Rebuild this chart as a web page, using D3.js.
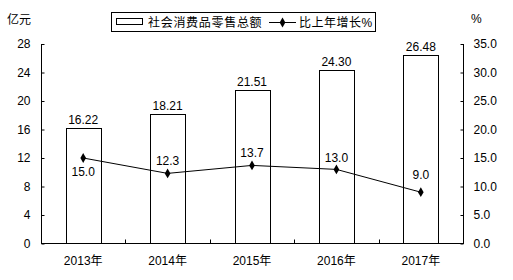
<!DOCTYPE html>
<html>
<head>
<meta charset="utf-8">
<script src="https://cdn.jsdelivr.net/npm/d3@7"></script>
<style>
  body { margin: 0; background: #fff; }
  text { font-family: "Liberation Sans", Arial, "Noto Sans CJK SC", sans-serif; font-size: 12px; fill: #000; }
  .cjk { font-family: "Liberation Sans", "Noto Sans CJK SC", sans-serif; }
</style>
</head>
<body>
<svg id="chart" width="513" height="280"></svg>
<script>
// data
var years = ["2013年", "2014年", "2015年", "2016年", "2017年"];
var sales = [16.22, 18.21, 21.51, 24.30, 26.48];      // 亿元
var growth = [15.0, 12.3, 13.7, 13.0, 9.0];           // %
var leftTicks = [0, 4, 8, 12, 16, 20, 24, 28];
var rightTicks = [0, 5, 10, 15, 20, 25, 30, 35];

(function () {
    var svg = d3.select("#chart");
    var pLeft = 41, pRight = 463, pTop = 44, pBottom = 243.5;

    var x = d3.scaleBand().domain(years).range([pLeft, pRight]);
    var yL = d3.scaleLinear().domain([0, 28]).range([pBottom, pTop]);
    var yR = d3.scaleLinear().domain([0, 35]).range([pBottom, pTop]);
    var barW = 35;

    // axes, ticks pointing into the plot
    var axL = svg.append("g").attr("transform", "translate(" + (pLeft + 0.5) + ",0)")
        .call(d3.axisRight(yL).tickValues(leftTicks).tickSize(3).tickFormat(d3.format("d")));
    axL.selectAll("text").attr("x", -11).attr("text-anchor", "end");

    var axR = svg.append("g").attr("transform", "translate(" + (pRight + 0.5) + ",0)")
        .call(d3.axisLeft(yR).tickValues(rightTicks).tickSize(3).tickFormat(d3.format(".1f")));
    axR.selectAll("text").attr("x", 10).attr("text-anchor", "start");

    [axL, axR].forEach(function (a) {
        a.select(".domain").remove();
        a.attr("font-family", null).attr("font-size", null);
        a.selectAll("line").attr("stroke", "#000");
    });
    svg.append("line").attr("x1", pLeft + 0.5).attr("x2", pLeft + 0.5).attr("y1", pTop).attr("y2", pBottom).attr("stroke", "#000");
    svg.append("line").attr("x1", pRight + 0.5).attr("x2", pRight + 0.5).attr("y1", pTop).attr("y2", pBottom).attr("stroke", "#000");

    // bottom axis
    var axB = svg.append("g").attr("transform", "translate(0," + pBottom + ")")
        .call(d3.axisBottom(x).tickSize(0).tickPadding(13));
    axB.select(".domain").remove();
    axB.attr("font-family", null).attr("font-size", null);
    axB.selectAll("text").attr("class", "cjk");
    svg.append("line").attr("x1", pLeft).attr("x2", pRight + 1).attr("y1", pBottom).attr("y2", pBottom).attr("stroke", "#000");
    svg.selectAll(".xtick").data(years.slice(1)).enter().append("line")
        .attr("x1", function (d) { return Math.round(x(d)) + 0.5; })
        .attr("x2", function (d) { return Math.round(x(d)) + 0.5; })
        .attr("y1", pBottom).attr("y2", pBottom - 4).attr("stroke", "#000");

    // bars
    svg.selectAll(".bar").data(sales).enter().append("rect")
        .attr("x", function (d, i) { return Math.round(x(years[i]) + x.bandwidth() / 2 - barW / 2) + 0.5; })
        .attr("y", function (d) { return Math.round(yL(d)) + 0.5; })
        .attr("width", barW)
        .attr("height", function (d) { return pBottom - Math.round(yL(d)) - 0.5; })
        .attr("fill", "#fff").attr("stroke", "#000");

    svg.selectAll(".barlab").data(sales).enter().append("text")
        .attr("x", function (d, i) { return x(years[i]) + x.bandwidth() / 2; })
        .attr("y", function (d) { return yL(d) - 4; })
        .attr("text-anchor", "middle")
        .text(function (d) { return d.toFixed(2); });

    // growth line
    var cx = function (d, i) { return x(years[i]) + x.bandwidth() / 2; };
    svg.append("path").datum(growth)
        .attr("fill", "none").attr("stroke", "#000").attr("stroke-width", 1)
        .attr("d", d3.line().x(cx).y(function (d) { return yR(d); }));

    svg.selectAll(".pt").data(growth).enter().append("path")
        .attr("transform", function (d, i) { return "translate(" + cx(d, i) + "," + yR(d) + ")"; })
        .attr("d", d3.symbol(d3.symbolDiamond, 28))
        .attr("fill", "#000");

    // label offsets: first one sits below its point, the last a bit higher
    var labDy = [18, -8, -8, -7, -13];
    svg.selectAll(".ptlab").data(growth).enter().append("text")
        .attr("x", cx)
        .attr("y", function (d, i) { return yR(d) + labDy[i]; })
        .attr("text-anchor", "middle")
        .text(function (d) { return d.toFixed(1); });

    // unit labels
    svg.append("text").attr("class", "cjk").attr("x", 7).attr("y", 24).text("亿元");
    svg.append("text").attr("x", 471).attr("y", 23).text("%");

    // legend
    var lg = svg.append("g");
    lg.append("rect").attr("x", 111.5).attr("y", 12.5).attr("width", 264).attr("height", 19)
        .attr("fill", "#fff").attr("stroke", "#000");
    lg.append("rect").attr("x", 116.5).attr("y", 18.5).attr("width", 26).attr("height", 6)
        .attr("fill", "#fff").attr("stroke", "#000");
    lg.append("text").attr("class", "cjk").attr("x", 148).attr("y", 26.5).attr("letter-spacing", 0.7).text("社会消费品零售总额");
    lg.append("line").attr("x1", 269).attr("x2", 296).attr("y1", 22.5).attr("y2", 22.5).attr("stroke", "#000");
    lg.append("path").attr("transform", "translate(282.5,22.5)").attr("d", d3.symbol(d3.symbolDiamond, 28)).attr("fill", "#000");
    lg.append("text").attr("class", "cjk").attr("x", 299).attr("y", 26.5).attr("letter-spacing", 0.5).text("比上年增长%");
})();
</script>
</body>
</html>
